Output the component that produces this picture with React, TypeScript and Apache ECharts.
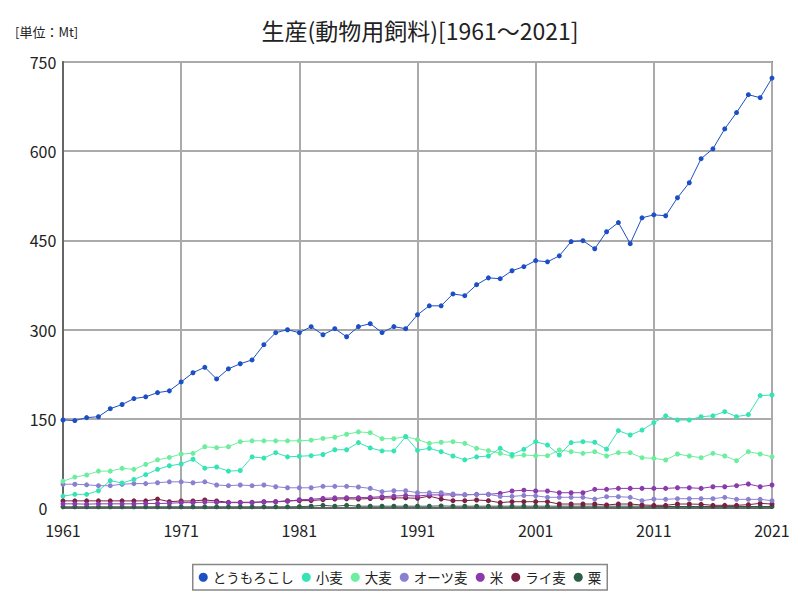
import React, { useEffect, useRef } from "react";
import * as echarts from "echarts";

const years: number[] = Array.from({ length: 61 }, (_, i) => 1961 + i);

const seriesNames = ["とうもろこし", "小麦", "大麦", "オーツ麦", "米", "ライ麦", "粟"];
const seriesColors = ["#1d4fc4", "#36e3b4", "#6cee9e", "#8a80d0", "#8a3aaa", "#7a2040", "#2e5e48"];

const corn = [
  148, 147, 152, 153.5, 167, 174, 184, 187, 194, 197,
  212, 227.5, 236.6, 217, 234, 242.6, 249, 274.6, 294.8, 299.8,
  294.8, 304.9, 291.4, 301.5, 288, 305, 310, 295, 305, 301.5,
  325, 340, 340, 360, 357, 375.5, 387, 385.6, 399, 405.8,
  416, 414, 424, 448, 449.5, 436, 464.6, 480, 444.5, 488,
  493, 491.5, 521.7, 547, 587.4, 604, 637.5, 665, 695, 690,
  723,
];
const wheat = [
  20, 23, 23, 29, 46, 42, 48, 56, 65, 71,
  74, 82, 67, 69, 62, 63, 86, 84, 93, 86,
  87, 88, 90, 98, 98, 110, 101, 96, 96, 120,
  97, 100.4, 94.7, 87.4, 81, 86, 87.4, 100.4, 90, 98.7,
  111.5, 106, 89, 110, 111.5, 110.5, 99, 130, 122.7, 131,
  143.5, 155, 148, 148, 153.6, 155, 162, 153.6, 157, 189,
  190,
];
const barley = [
  45, 52, 55.5, 62, 62, 66.7, 65, 73.4, 81, 85,
  90.8, 92, 103, 101.4, 103, 111.5, 113, 113, 113, 113,
  113, 114, 117, 119, 124, 128, 126.7, 116.6, 116.6, 120,
  115, 108.7, 110.5, 111.5, 108.7, 100.4, 96.4, 92, 87, 89,
  88, 88, 97.5, 94.7, 92, 94.7, 87.4, 93, 93, 84.6,
  83.5, 80.7, 90.8, 87.4, 84.6, 92, 87.4, 79.6, 94.7, 90.8,
  86,
];
const oats = [
  40, 40, 39, 37.5, 37.5, 40, 41, 41, 42.5, 44,
  44, 42.5, 44, 38.7, 37.5, 38.7, 37.5, 38.7, 35.8, 34,
  34, 34, 36.5, 36.5, 36.5, 35.3, 33, 27.4, 29, 29,
  25.7, 25.7, 25.7, 23.5, 22.5, 22.5, 23, 19.5, 19.5, 21,
  20.5, 18, 18, 18, 18, 15, 19, 19, 18, 12.3,
  15, 14.6, 15.7, 15.7, 15.7, 15.7, 18, 14.6, 14.6, 14.6,
  12.3,
];
const rice = [
  7, 7, 6.5, 7, 7, 7, 7, 7.5, 7.5, 8,
  9, 9, 10, 9.5, 9, 9, 9, 10, 10.5, 11,
  14, 14.6, 16.3, 17, 17.4, 17.4, 18, 19, 20, 21,
  20, 22, 22, 22, 22, 23, 23, 24.6, 28.6, 30,
  28.6, 28.6, 25.7, 25.7, 25.7, 31.4, 31.4, 33, 33, 33,
  33, 33, 34, 34, 33, 35.8, 35.8, 37.5, 40.4, 35.8,
  38.7,
];
const rye = [
  12, 12, 12, 12, 12, 12, 12, 12, 15, 10.6,
  11.8, 11.8, 13.5, 11.8, 9.6, 9.6, 9.6, 10.5, 10.5, 12.3,
  12.3, 12.5, 14, 15, 15.5, 15, 16, 17, 17, 17,
  16.3, 20, 15, 12.3, 12.3, 13.5, 12.3, 9, 10.6, 10.6,
  10.6, 10.6, 6.7, 6.7, 6.7, 6.7, 5, 6.7, 6.7, 5,
  4.5, 4.5, 6.7, 6.7, 6.2, 4.5, 4.5, 4.5, 5.6, 7.8,
  6.7,
];
const millet = [
  2, 2, 2, 2, 2, 2, 2, 2, 2, 2,
  2, 2, 2, 2, 2, 2, 2, 2, 2, 2,
  2.2, 3, 4.5, 3, 4.5, 3, 3, 3, 3, 3,
  3, 3, 3.5, 3, 3, 3, 3, 3, 3, 3,
  3, 3, 3, 3, 3, 3, 3, 3, 3, 3,
  2.5, 2.5, 2.5, 2.5, 2.5, 2.5, 2.5, 2.5, 2.5, 2.5,
  2.5,
];

export default function App() {
  const ref = useRef<HTMLDivElement>(null);
  useEffect(() => {
    if (!ref.current) return;
    const chart = echarts.init(ref.current, undefined, { renderer: "svg" });
    const allData = [corn, wheat, barley, oats, rice, rye, millet];
    const font = "'Noto Sans CJK JP', 'Noto Sans', sans-serif";
    chart.setOption({
      animation: false,
      backgroundColor: "#ffffff",
      textStyle: { fontFamily: font },
      title: [
        {
          text: "生産(動物用飼料)[1961～2021]",
          left: 415,
          top: 13,
          textAlign: "center",
          textStyle: { fontSize: 23, fontWeight: "normal", color: "#222", fontFamily: font },
        },
        {
          text: "[単位：Mt]",
          left: 10,
          top: 20,
          textStyle: { fontSize: 13, fontWeight: "normal", color: "#222", fontFamily: font },
        },
      ],
      legend: {
        data: seriesNames,
        bottom: 10,
        left: "center",
        icon: "circle",
        itemWidth: 9,
        itemHeight: 9,
        itemGap: 8,
        borderColor: "#888",
        borderWidth: 1.5,
        padding: [6, 6],
        textStyle: { fontSize: 13.5, color: "#222", fontFamily: font },
      },
      grid: {
        left: 63,
        right: 28,
        top: 62,
        bottom: 92,
        containLabel: false,
        show: true,
        borderColor: "#777",
        borderWidth: 2,
      },
      xAxis: {
        type: "value",
        min: 1961,
        max: 2021,
        interval: 10,
        axisLine: { show: true, lineStyle: { color: "#666", width: 2 } },
        axisTick: { show: false },
        axisLabel: {
          fontSize: 16,
          color: "#222",
          margin: 14,
          fontFamily: font,
          formatter: (v: number) => String(v),
        },
        splitLine: { show: true, lineStyle: { color: "#aaa", width: 2 } },
      },
      yAxis: {
        type: "value",
        min: 0,
        max: 750,
        interval: 150,
        axisLine: { show: true, lineStyle: { color: "#666", width: 2 } },
        axisTick: { show: false },
        axisLabel: { fontSize: 16, color: "#222", margin: 20, align: "center", fontFamily: font },
        splitLine: { show: true, lineStyle: { color: "#aaa", width: 2 } },
      },
      series: seriesNames.map((name, k) => ({
        name,
        type: "line",
        data: years.map((y, i) => [y, allData[k][i]]),
        symbol: "circle",
        symbolSize: 5,
        color: seriesColors[k],
        lineStyle: { width: 1, color: seriesColors[k] },
        itemStyle: { color: seriesColors[k] },
        z: 10 - k,
      })),
    });
    return () => chart.dispose();
  }, []);
  return (
    <div
      ref={ref}
      style={{ position: "absolute", left: 0, top: 0, width: 800, height: 600 }}
    />
  );
}
